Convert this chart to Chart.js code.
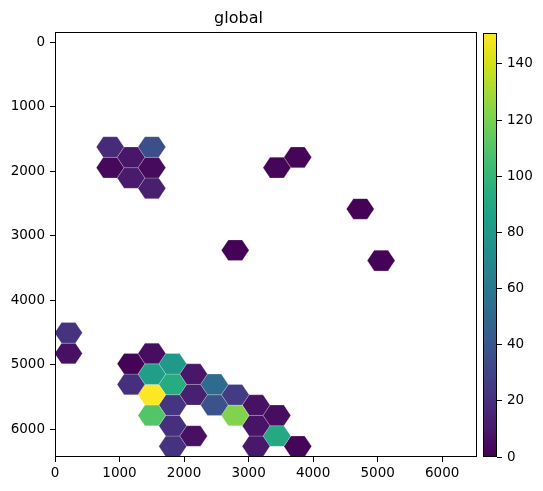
<!DOCTYPE html>
<html>
<head>
<meta charset="utf-8">
<script src="https://cdn.jsdelivr.net/npm/chart.js@4.4.0/dist/chart.umd.min.js"></script>
<style>
  html, body { margin: 0; padding: 0; background: #fff; }
  #wrap { position: relative; width: 543px; height: 491px; }
  #main { position: absolute; left: 0; top: 0; }
  #cbar { position: absolute; left: 483px; top: 0; }
</style>
</head>
<body>
<div id="wrap">
  <canvas id="main" width="543" height="491"></canvas>
  <canvas id="cbar" width="60" height="491"></canvas>
</div>
<script>
// hex centres (data units) and the count in each hex
var hexX = [855, 1178, 1501, 855, 1178, 1501, 1501, 3439, 3762, 4731, 2793, 5054,
            209, 209, 1178, 1178, 1501, 1501, 1501, 1501, 1824, 1824, 1824, 1824, 1824,
            2147, 2147, 2147, 2470, 2470, 2793, 2793, 3116, 3116, 3116, 3439, 3439, 3762];
var hexY = [1625, 1785, 1625, 1945, 2105, 1945, 2265, 1945, 1785, 2585, 3225, 3385,
            4505, 4825, 4985, 5305, 4825, 5145, 5465, 5785, 4985, 5305, 5625, 5945, 6265,
            5145, 5465, 6105, 5305, 5625, 5465, 5785, 5625, 5945, 6265, 5785, 6105, 6265];
var counts = [18, 9, 36, 3, 11, 4, 13, 2, 2, 1, 1, 1,
              22, 6, 1, 20, 5, 84, 151, 110, 80, 93, 23, 20, 22,
              9, 13, 6, 52, 38, 26, 122, 7, 8, 10, 5, 91, 2];

var xTicks = [0, 1000, 2000, 3000, 4000, 5000, 6000];
var yTicks = [0, 1000, 2000, 3000, 4000, 5000, 6000];
var cbTicks = [0, 20, 40, 60, 80, 100, 120, 140];

var xRange = [0, 6540];
var yRange = [-155, 6430];
var cMax = Math.max.apply(null, counts);

// hex half sizes in data units (pointy left/right)
var HEX_DX = 215, HEX_DY = 160;

var viridis = ['#440154', '#48186a', '#472d7b', '#424086', '#3b528b', '#33638d', '#2c728e',
  '#26828e', '#21918c', '#1fa088', '#28ae80', '#3fbc73', '#5ec962', '#84d44b', '#addc30',
  '#d8e219', '#fde725'];

function hexToRgb(h) {
  return [parseInt(h.substr(1, 2), 16), parseInt(h.substr(3, 2), 16), parseInt(h.substr(5, 2), 16)];
}

function cmap(t) {
  t = Math.max(0, Math.min(1, t));
  var p = t * (viridis.length - 1);
  var i = Math.min(Math.floor(p), viridis.length - 2);
  var f = p - i;
  var a = hexToRgb(viridis[i]), b = hexToRgb(viridis[i + 1]);
  return 'rgb(' + Math.round(a[0] + (b[0] - a[0]) * f) + ',' +
    Math.round(a[1] + (b[1] - a[1]) * f) + ',' +
    Math.round(a[2] + (b[2] - a[2]) * f) + ')';
}

Chart.defaults.font.family = 'DejaVu Sans';
Chart.defaults.font.size = 13.5;
Chart.defaults.color = '#000';

var datasets = hexX.map(function (cx, i) {
  var cy = hexY[i];
  var pts = [
    {x: cx + HEX_DX, y: cy},
    {x: cx + HEX_DX / 2, y: cy + HEX_DY},
    {x: cx - HEX_DX / 2, y: cy + HEX_DY},
    {x: cx - HEX_DX, y: cy},
    {x: cx - HEX_DX / 2, y: cy - HEX_DY},
    {x: cx + HEX_DX / 2, y: cy - HEX_DY},
    {x: cx + HEX_DX, y: cy}
  ];
  var col = cmap(counts[i] / cMax);
  return {
    data: pts,
    showLine: true,
    fill: 'shape',
    backgroundColor: col,
    borderColor: 'rgba(255,255,255,0.35)',
    borderWidth: 0.6,
    pointRadius: 0,
    tension: 0
  };
});

var boxPlugin = {
  id: 'box',
  afterDraw: function (chart) {
    var a = chart.chartArea, ctx = chart.ctx;
    ctx.save();
    ctx.strokeStyle = '#000';
    ctx.lineWidth = 1;
    ctx.strokeRect(Math.round(a.left) + 0.5, Math.round(a.top) + 0.5,
      Math.round(a.right - a.left) - 1, Math.round(a.bottom - a.top) - 1);
    ctx.restore();
  }
};

var tickGrid = {drawOnChartArea: false, drawTicks: true, tickLength: 5, tickColor: '#000', tickWidth: 1};

new Chart(document.getElementById('main'), {
  type: 'scatter',
  data: {datasets: datasets},
  options: {
    responsive: false,
    animation: false,
    layout: {padding: {left: 0, right: 66, top: 0, bottom: 0}},
    plugins: {
      legend: {display: false},
      tooltip: {enabled: false},
      title: {
        display: true,
        text: 'global',
        color: '#000',
        font: {size: 16, weight: 'normal'},
        padding: {top: 9, bottom: 4}
      }
    },
    scales: {
      x: {
        type: 'linear',
        min: xRange[0],
        max: xRange[1],
        afterBuildTicks: function (s) { s.ticks = xTicks.map(function (v) { return {value: v}; }); },
        afterFit: function (s) { s.height = 34; },
        ticks: {padding: 3, maxRotation: 0, callback: function (v) { return v; }},
        grid: tickGrid,
        border: {display: false}
      },
      y: {
        type: 'linear',
        reverse: true,
        min: yRange[0],
        max: yRange[1],
        afterBuildTicks: function (s) { s.ticks = yTicks.map(function (v) { return {value: v}; }); },
        afterFit: function (s) { s.width = 55; },
        ticks: {padding: 5, callback: function (v) { return v; }},
        grid: tickGrid,
        border: {display: false}
      }
    }
  },
  plugins: [boxPlugin]
});

new Chart(document.getElementById('cbar'), {
  type: 'bar',
  data: {
    labels: ['c'],
    datasets: [{
      data: [[0, cMax]],
      barPercentage: 1,
      categoryPercentage: 1,
      borderWidth: 0,
      backgroundColor: function (c) {
        var area = c.chart.chartArea;
        if (!area) return viridis[0];
        var g = c.chart.ctx.createLinearGradient(0, area.bottom, 0, area.top);
        viridis.forEach(function (col, i) { g.addColorStop(i / (viridis.length - 1), col); });
        return g;
      }
    }]
  },
  options: {
    responsive: false,
    animation: false,
    layout: {padding: {left: 0, right: 0, top: 33, bottom: 34}},
    plugins: {legend: {display: false}, tooltip: {enabled: false}},
    scales: {
      x: {display: false},
      y: {
        position: 'right',
        min: 0,
        max: cMax,
        afterBuildTicks: function (s) { s.ticks = cbTicks.map(function (v) { return {value: v}; }); },
        afterFit: function (s) { s.width = 46; },
        ticks: {padding: 5},
        grid: tickGrid,
        border: {display: false}
      }
    }
  },
  plugins: [boxPlugin]
});
</script>
</body>
</html>
